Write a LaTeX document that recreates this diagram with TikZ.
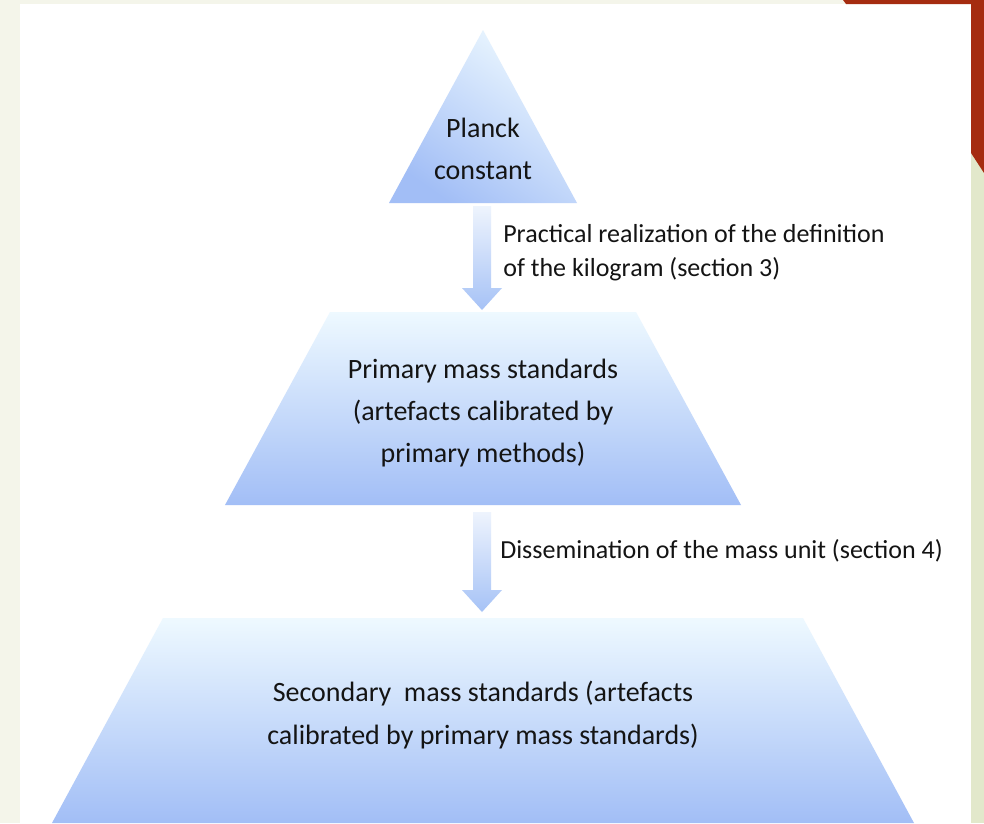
\documentclass[tikz,border=0pt]{standalone}
\usepackage{fontspec}
\setmainfont{Carlito}
\usepackage{tikz}
\usetikzlibrary{positioning}

\definecolor{paper}{HTML}{F4F5EA}
\definecolor{sage}{HTML}{E2E8CB}
\definecolor{rust}{HTML}{A52C10}
\definecolor{tierTop}{HTML}{EEF9FF}
\definecolor{tierBot}{HTML}{A2BEF6}
\definecolor{arrTop}{HTML}{EEF4FD}
\definecolor{arrBot}{HTML}{A6C2F6}
\definecolor{ink}{HTML}{141414}

\tikzset{
  tier/.style = {top color = tierTop, bottom color = tierBot, draw = none},
  blockarrow/.style = {top color = arrTop, bottom color = arrBot, draw = none},
  tiertext/.style = {align = center, inner sep = 0, text = ink, font = \fontsize{19.9}{29.9}\selectfont},
  steptext/.style = {align = left, anchor = west, inner sep = 0, text = ink, font = \fontsize{18.5}{24.2}\selectfont}
}

\begin{document}
\begin{tikzpicture}[x = 0.025cm, y = -0.025cm]
\useasboundingbox (0, 0) rectangle (984, 823);
% slide frame
\fill [paper] (0, 0) rectangle (984, 823);
\fill [white] (20, 4) rectangle (971, 823);
\fill [sage] (971, 4) rectangle (984, 823);
\fill [rust] (843, 0) -- (984, 0) -- (984, 173) -- (971, 153) -- (971, 4) -- (846, 4) -- cycle;

% pyramid, cut into three tiers
\coordinate (apex) at (483, 30);
\path [tier, shading angle = -35] (apex) -- (577, 203) -- (389, 203) -- cycle;
\path [tier] (330, 312) -- (636, 312) -- (741, 505) -- (225, 505) -- cycle;
\path [tier] (163, 618) -- (803, 618) -- (914, 823) -- (52, 823) -- cycle;

% block arrows between the tiers
\path [blockarrow] (473, 206) -- (491, 206) -- (491, 288) -- (502, 288) -- (482, 310) -- (462, 288) -- (473, 288) -- cycle;
\path [blockarrow] (473, 512) -- (491, 512) -- (491, 590) -- (502, 590) -- (482, 612) -- (462, 590) -- (473, 590) -- cycle;

\node [tiertext] (planck) at (483, 149) {Planck\\constant};
\node [tiertext] (primary) at (483, 413) {Primary mass standards\\(artefacts calibrated by\\primary methods)};
\node [tiertext] (secondary) at (483, 715) {Secondary~ mass standards (artefacts\\calibrated by primary mass standards)};

\node [steptext] (realize) at (503, 253) {Practical realization of the definition\\of the kilogram (section 3)};
\node [steptext] (dissem) at (500, 551) {Dissemination of the mass unit (section 4)};
\end{tikzpicture}
\end{document}
